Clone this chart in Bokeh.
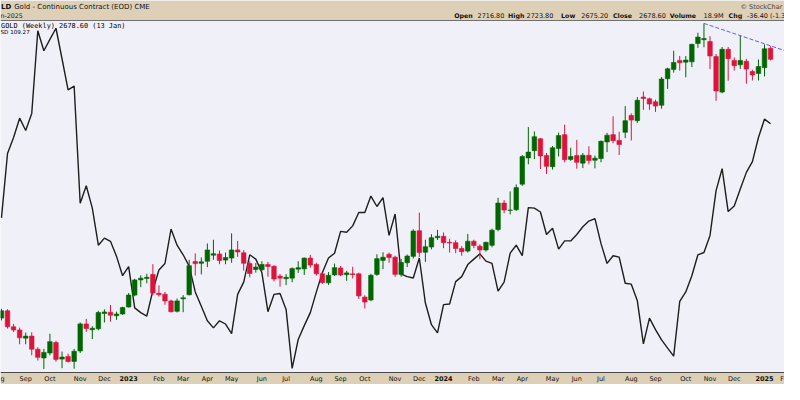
import numpy as np
from bokeh.plotting import figure
from bokeh.models import Range1d, Label, ColumnDataSource, BoxAnnotation, Span
from bokeh.embed import file_html
from bokeh.resources import INLINE

# ---------------- data (weekly candles, week 0 = 8 Aug 2022 ... week 127 = 13 Jan 2025) ----------------
opens = [1790, 1815, 1760, 1749, 1721, 1728, 1683, 1653, 1670, 1706, 1649, 1658, 1641, 1677, 1770, 1750,
         1753, 1806, 1810, 1798, 1804, 1828, 1869, 1921, 1926, 1940, 1875, 1872, 1849, 1813, 1856, 1870,
         1984, 1978, 1985, 2006, 2010, 1989, 1996, 2024, 2014, 1977, 1957, 1956, 1974, 1968, 1934, 1925,
         1927, 1958, 1959, 1996, 1974, 1942, 1911, 1938, 1962, 1939, 1942, 1942, 1862, 1852, 1940, 1988,
         2009, 1999, 1940, 1980, 2002, 2090, 2016, 2034, 2066, 2071, 2050, 2049, 2029, 2020, 2054, 2037,
         2024, 2040, 2094, 2185, 2160, 2162, 2250, 2340, 2365, 2406, 2348, 2310, 2372, 2420, 2335, 2348,
         2322, 2349, 2332, 2338, 2395, 2420, 2400, 2428, 2486, 2468, 2549, 2543, 2533, 2521, 2612, 2644,
         2675, 2669, 2670, 2733, 2746, 2740, 2688, 2566, 2713, 2675, 2660, 2672, 2637, 2630, 2650, 2716.8]
highs = [1822, 1820, 1770, 1757, 1740, 1741, 1690, 1684, 1736, 1712, 1675, 1668, 1684, 1775, 1787, 1762,
         1815, 1820, 1835, 1812, 1829, 1876, 1925, 1937, 1942, 1975, 1902, 1880, 1853, 1857, 1869, 1990,
         2012, 1998, 2046, 2059, 2022, 2015, 2081, 2055, 2023, 1985, 1979, 1985, 1983, 1971, 1941, 1941,
         1964, 1985, 1998, 2007, 1980, 1946, 1948, 1977, 1969, 1952, 1966, 1946, 1868, 1942, 2009, 2016,
         2015, 2004, 1993, 2008, 2095, 2152, 2059, 2078, 2093, 2084, 2062, 2057, 2037, 2079, 2059, 2043,
         2052, 2097, 2203, 2195, 2225, 2249, 2350, 2446, 2431, 2408, 2357, 2381, 2427, 2454, 2375, 2402,
         2357, 2380, 2348, 2400, 2426, 2483, 2430, 2518, 2493, 2549, 2568, 2547, 2540, 2618, 2650, 2708,
         2690, 2690, 2732, 2770, 2802, 2758, 2697, 2721, 2721, 2685, 2760, 2680, 2643, 2678, 2730, 2723.8]
lows = [1782, 1754, 1742, 1700, 1700, 1662, 1644, 1615, 1662, 1640, 1618, 1637, 1616, 1670, 1742, 1718,
        1748, 1775, 1778, 1784, 1801, 1826, 1865, 1896, 1909, 1868, 1864, 1836, 1809, 1809, 1810, 1868,
        1936, 1940, 1965, 1990, 1975, 1975, 1980, 2000, 1953, 1930, 1946, 1952, 1932, 1916, 1898, 1903,
        1913, 1945, 1938, 1963, 1936, 1908, 1904, 1935, 1934, 1918, 1926, 1856, 1823, 1848, 1935, 1958,
        1980, 1932, 1932, 1965, 1995, 2000, 1983, 2026, 2058, 2030, 2015, 2013, 2004, 2015, 2030, 1992,
        2018, 2033, 2088, 2150, 2146, 2158, 2244, 2318, 2336, 2302, 2285, 2300, 2345, 2325, 2330, 2303,
        2305, 2318, 2304, 2325, 2360, 2390, 2350, 2408, 2400, 2460, 2505, 2505, 2498, 2509, 2577, 2633,
        2640, 2617, 2652, 2718, 2720, 2645, 2536, 2562, 2605, 2640, 2646, 2595, 2606, 2606, 2620, 2675.2]
closes = [1815, 1760, 1749, 1722, 1728, 1683, 1655, 1672, 1709, 1648, 1656, 1641, 1676, 1770, 1754, 1755,
          1809, 1811, 1800, 1804, 1826, 1869, 1921, 1927, 1930, 1876, 1870, 1849, 1812, 1849, 1860, 1970,
          1977, 1983, 2024, 2011, 1988, 1998, 2024, 2017, 1978, 1943, 1965, 1974, 1967, 1924, 1927, 1930,
          1960, 1963, 1996, 1972, 1942, 1912, 1937, 1963, 1938, 1945, 1939, 1866, 1845, 1937, 1994, 1999,
          1998, 1940, 1981, 2003, 2089, 2015, 2035, 2066, 2071, 2049, 2048, 2029, 2018, 2054, 2039, 2024,
          2050, 2092, 2185, 2161, 2161, 2238, 2345, 2360, 2413, 2347, 2311, 2375, 2417, 2334, 2345, 2325,
          2349, 2331, 2339, 2397, 2418, 2399, 2386, 2468, 2470, 2538, 2544, 2525, 2518, 2611, 2646, 2668,
          2667, 2676, 2730, 2755, 2750, 2690, 2570, 2713, 2681, 2657, 2675, 2645, 2625, 2654, 2715, 2678.6]
# standard deviation overlay (own scale)
sd_values = [67.9, 96.2, 103.2, 111.7, 106.3, 113.8, 150.1, 141.3, 146.3, 151.2, 137.8, 124.1, 125.8, 74.3,
             82.0, 72.2, 55.9, 59.0, 57.6, 51.0, 42.5, 46.5, 28.4, 26.3, 24.8, 36.1, 45.0, 47.9, 63.0, 55.9,
             51.7, 46.7, 35.4, 29.1, 22.7, 19.6, 22.7, 21.3, 17.1, 34.3, 39.7, 51.7, 49.8, 43.9, 26.7, 34.3,
             34.7, 27.7, 1.8, 14.5, 20.6, 26.3, 35.4, 43.9, 50.3, 52.4, 62.0, 61.6, 64.4, 70.3, 70.3, 77.5,
             72.9, 76.8, 60.2, 69.6, 43.2, 42.1, 41.5, 50.3, 30.5, 21.0, 17.4, 29.8, 30.1, 39.9, 42.1, 47.4,
             49.8, 52.1, 48.9, 47.9, 35.7, 39.7, 52.4, 55.9, 51.3, 72.4, 72.2, 70.5, 60.6, 63.4, 54.2, 57.8,
             57.8, 60.6, 64.0, 66.5, 67.6, 56.6, 47.9, 51.3, 50.7, 39.2, 38.8, 31.5, 12.6, 23.9, 18.8, 14.3,
             10.7, 7.2, 31.2, 35.4, 42.5, 51.7, 52.7, 60.2, 79.9, 89.5, 70.7, 73.1, 80.6, 87.9, 92.6, 103.2,
             111.3, 109.27]

# date scale: first week of each month (week index) and its label
month_ticks = [4, 8, 13, 17, 21, 26, 30, 34, 38, 43, 47, 52, 56, 60, 65, 69, 73, 78, 82, 86, 91, 95, 99,
               104, 108, 113, 117, 121, 126]
month_labels = ["Sep", "Oct", "Nov", "Dec", "2023", "Feb", "Mar", "Apr", "May", "Jun", "Jul", "Aug", "Sep",
                "Oct", "Nov", "Dec", "2024", "Feb", "Mar", "Apr", "May", "Jun", "Jul", "Aug", "Sep", "Oct",
                "Nov", "Dec", "2025"]
week_ticks = list(range(-1, 131))
# fragments of the month labels that the crop cuts at both edges ("Aug" 2022 / "Feb" 2025)
edge_left, edge_right = "g", "F"

trend_x = [116, 122]
trend_y = [2802, 2760]

symbol_visible = "LD"            # "$GOLD", cut by the crop
name = "Gold - Continuous Contract (EOD) CME"
date_visible = "n-2025"          # "13-Jan-2025", cut by the crop
credit_visible = "\u00a9 StockChar"
last_open, last_high, last_low, last_close = 2716.80, 2723.80, 2675.20, 2678.60
volume_text = "18.9M"
chg_visible = "-36.40 (-1.3"
legend_text = "GOLD (Weekly) 2678.60 (13 Jan)"
sd_last = 109.27

# ---------------- geometry ----------------
W, H = 784, 384
HEAD, FOOT = 20, 12                    # header band and date band heights (px)
P_BOT, P_TOP = 1603.0, 2812.0          # price shown at bottom / top of the chart body
SD_BOT, SD_TOP = 0.0, 154.6
body_px = H - HEAD - FOOT
ppx = (P_TOP - P_BOT) / body_px
spx = (SD_TOP - SD_BOT) / body_px
x_lo, x_hi = -0.16, 129.3

TAN = "#ddd0b6"
GREEN, RED = "#006600", "#dc143c"

n = len(opens)
k = list(range(n))
src = ColumnDataSource(dict(
    k=k, high=highs, low=lows,
    top=[max(o, c) for o, c in zip(opens, closes)],
    bottom=[min(o, c) for o, c in zip(opens, closes)],
    color=[GREEN if c >= o else RED for o, c in zip(opens, closes)],
))

p = figure(width=W, height=H, x_range=Range1d(x_lo, x_hi),
           y_range=Range1d(P_BOT - FOOT * ppx, P_TOP + HEAD * ppx),
           x_axis_location=None, y_axis_location=None, output_backend="svg", toolbar_location=None,
           background_fill_color="#f0f0f8", border_fill_color=TAN,
           min_border_left=0, min_border_right=0, min_border_top=0, min_border_bottom=0)
p.outline_line_color = None
p.xgrid.visible = False
p.ygrid.visible = False
p.extra_y_ranges = {"sd": Range1d(SD_BOT - FOOT * spx, SD_TOP + HEAD * spx)}

# standard deviation line (behind price)
p.line(k, sd_values, y_range_name="sd", line_color="#1e1e1e", line_width=1.4)

# candles
p.segment(x0="k", y0="low", x1="k", y1="high", line_color="color", line_width=1, source=src)
p.vbar(x="k", width=0.75, top="top", bottom="bottom", fill_color="color", line_color="color",
       line_width=0.6, source=src)

# dashed resistance trend line through two highs, extended to the right edge
slope = (trend_y[1] - trend_y[0]) / (trend_x[1] - trend_x[0])
tx = np.array([trend_x[0], x_hi])
ty = trend_y[0] + slope * (tx - trend_x[0])
p.line(tx, ty, line_color="#5a5aff", line_width=1, line_dash="4 2")

# header band and date band
p.add_layout(BoxAnnotation(bottom=P_TOP, fill_color=TAN, fill_alpha=1, line_color=None))
p.add_layout(BoxAnnotation(top=P_BOT, fill_color=TAN, fill_alpha=1, line_color=None))
p.add_layout(Span(location=P_TOP, dimension="width", line_color="#707070", line_width=1))
p.add_layout(Span(location=P_BOT, dimension="width", line_color="#4a4a4a", line_width=1))

# weekly tick marks on the date scale
p.segment(x0=week_ticks, y0=[P_BOT] * len(week_ticks), x1=week_ticks,
          y1=[P_BOT - 2 * ppx] * len(week_ticks), line_color="#7a7a7a", line_width=1)

# date labels (years bold)
LAB_Y = P_BOT - 6.3 * ppx
for t, s in zip(month_ticks, month_labels):
    p.add_layout(Label(x=t, y=LAB_Y, text=s, text_align="center", text_baseline="middle",
                       text_font="DejaVu Sans", text_font_size="6.5px",
                       text_font_style="bold" if s.isdigit() else "normal", text_color="#111111"))
p.add_layout(Label(x=0, y=FOOT - 6.3, x_units="screen", y_units="screen", text=edge_left,
                   text_align="left", text_baseline="middle", text_font="DejaVu Sans",
                   text_font_size="6.5px", text_color="#111111"))
p.add_layout(Label(x=W - 0.5, y=FOOT - 6.3, x_units="screen", y_units="screen", text=edge_right,
                   text_align="right", text_baseline="middle", text_font="DejaVu Sans",
                   text_font_size="6.5px", text_color="#111111"))

def lab(x, y_canvas, text, bold=False, size="7px", align="left", color="#111111", font="DejaVu Sans"):
    p.add_layout(Label(x=x, y=H - y_canvas, x_units="screen", y_units="screen", text=text,
                       text_align=align, text_baseline="middle", text_font=font, text_font_size=size,
                       text_font_style="bold" if bold else "normal", text_color=color))

# header line 1
lab(0.5, 6.7, symbol_visible, bold=True)
lab(13.7, 6.7, name)
lab(740, 6.7, credit_visible, size="6.5px", color="#444444")
# header line 2
lab(0, 15.4, date_visible, size="6.3px")
pieces = [(453.7, "Open", True), (477.0, f"{last_open:.2f}", False),
          (507.6, "High", True), (526.0, f"{last_high:.2f}", False),
          (560.6, "Low", True), (580.8, f"{last_low:.2f}", False),
          (612.5, "Close", True), (638.5, f"{last_close:.2f}", False),
          (669.3, "Volume", True), (703.0, volume_text, False),
          (728.1, "Chg", True), (746.5, chg_visible, False)]
for x, s, b in pieces:
    lab(x, 15.4, s, bold=b, size="6.3px" if b else "6.5px")

# in-chart legend
lab(0.5, 25.0, legend_text, size="6.9px", font="DejaVu Sans Mono", color="#000000")
lab(0, 31.8, f"SD {sd_last:.2f}", size="5.6px", color="#000000")

open("out.html", "w").write(file_html(p, INLINE))
